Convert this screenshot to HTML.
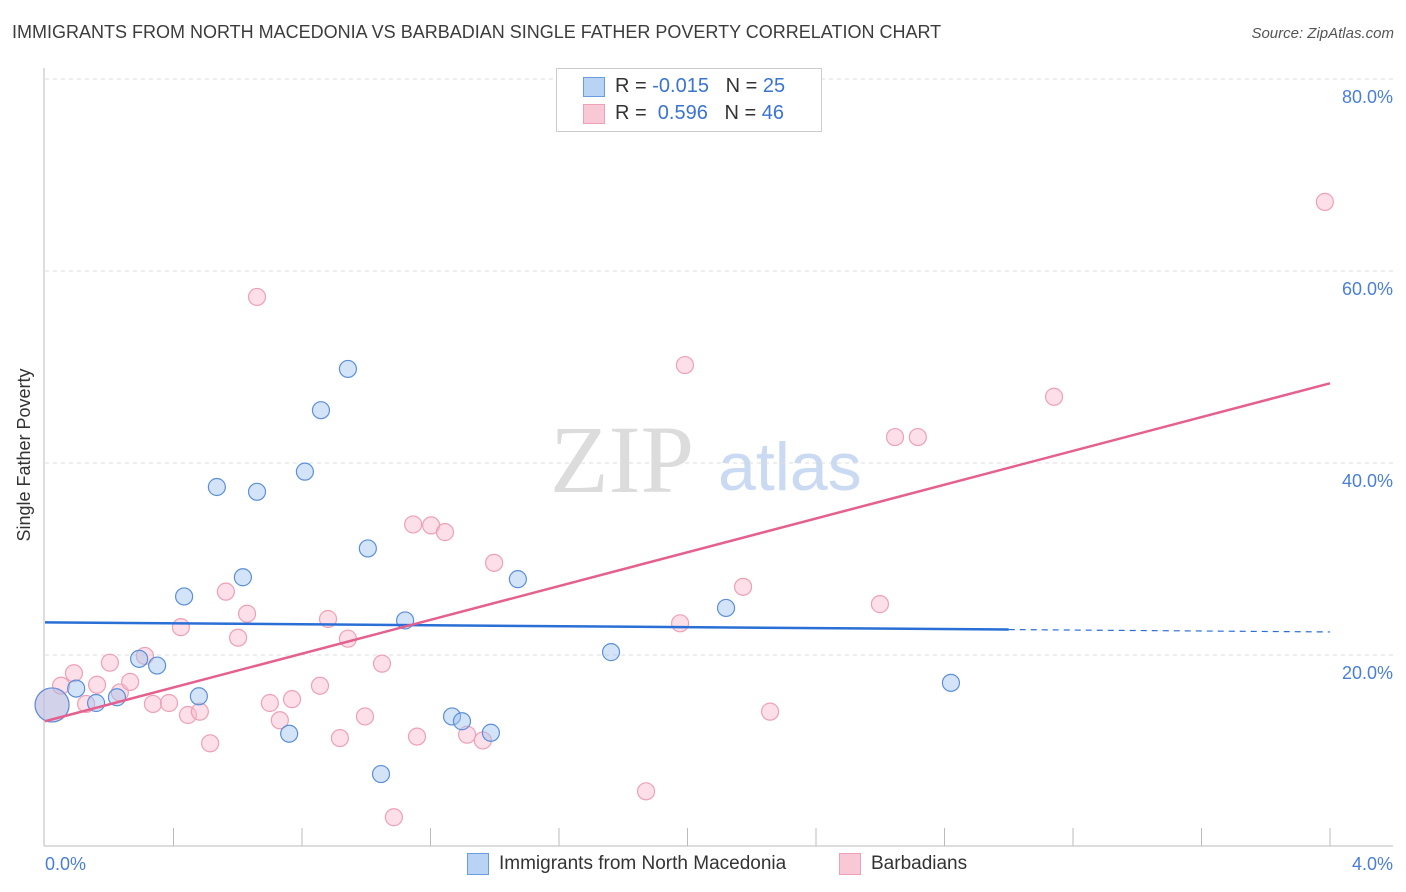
<!DOCTYPE html>
<html><head><meta charset="utf-8"><style>
body{margin:0;background:#fff;font-family:"Liberation Sans",sans-serif;}
#w{position:relative;width:1406px;height:892px;overflow:hidden}
</style></head><body><div id="w">
<div style="position:absolute;left:12px;top:22px;font-size:18px;color:#3c3c3c">IMMIGRANTS FROM NORTH MACEDONIA VS BARBADIAN SINGLE FATHER POVERTY CORRELATION CHART</div>
<div style="position:absolute;right:12px;top:25px;font-size:15px;color:#555;font-style:italic">Source: ZipAtlas.com</div>
<svg id="s" width="1406" height="892" style="position:absolute;left:0;top:0">
<text x="550" y="492" font-family="Liberation Serif" font-size="96" fill="#dcdcdc">ZIP</text>
<text x="718" y="490" font-family="Liberation Sans" font-size="68" fill="#c9daf2">atlas</text>
<text x="30" y="455" transform="rotate(-90 30 455)" text-anchor="middle" font-size="18" fill="#333">Single Father Poverty</text>
</svg>
<div style="position:absolute;left:556px;top:68px;width:264px;height:62px;border:1px solid #ccc;background:#fff;font-size:20px;color:#333">
<div style="position:absolute;left:26px;top:8px;width:20px;height:18px;background:#b9d3f5;border:1px solid #6a9ce0"></div>
<div style="position:absolute;left:58px;top:6px">R = <span style="color:#3a74d0">-0.015</span>&nbsp;&nbsp;&nbsp;N = <span style="color:#3a74d0">25</span></div>
<div style="position:absolute;left:26px;top:35px;width:20px;height:18px;background:#f9c8d6;border:1px solid #eea0b6"></div>
<div style="position:absolute;left:58px;top:33px">R = &nbsp;<span style="color:#3a74d0">0.596</span>&nbsp;&nbsp;&nbsp;N = <span style="color:#3a74d0">46</span></div>
</div>
<div style="position:absolute;left:467px;top:853px;width:20px;height:20px;background:#b9d3f5;border:1px solid #6a9ce0"></div>
<div style="position:absolute;left:499px;top:853px;font-size:19px;color:#333">Immigrants from North Macedonia</div>
<div style="position:absolute;left:839px;top:853px;width:20px;height:20px;background:#f9c8d6;border:1px solid #eea0b6"></div>
<div style="position:absolute;left:871px;top:853px;font-size:19px;color:#333">Barbadians</div>
</div>
<script>
const yTicks=[20,40,60,80];
const yTickLabels=["20.0%","40.0%","60.0%","80.0%"];
const xTickLabels=["0.0%","4.0%"];
const blueX=[0.022,0.097,0.159,0.224,0.293,0.349,0.433,0.479,0.535,0.616,0.660,0.760,0.809,0.859,0.943,1.005,1.046,1.121,1.267,1.298,1.388,1.472,1.762,2.120,2.820];
const blueY=[14.8,16.5,15.0,15.6,19.6,18.9,26.1,15.7,37.5,28.1,37.0,11.8,39.1,45.5,49.8,31.1,7.6,23.6,13.6,13.1,11.9,27.9,20.3,24.9,17.1];
const pinkX=[0.022,0.050,0.090,0.128,0.162,0.202,0.233,0.265,0.311,0.336,0.386,0.423,0.445,0.482,0.514,0.563,0.601,0.629,0.660,0.700,0.731,0.769,0.856,0.881,0.918,0.943,0.996,1.049,1.086,1.146,1.158,1.202,1.245,1.314,1.363,1.398,1.871,1.977,1.992,2.173,2.257,2.599,2.646,2.717,3.141,3.984];
const pinkY=[14.8,16.8,18.1,14.9,16.9,19.2,16.1,17.2,19.9,14.9,15.0,22.9,13.75,14.1,10.8,26.6,21.8,24.3,57.3,15.0,13.2,15.4,16.8,23.75,11.35,21.7,13.6,19.1,3.1,33.6,11.5,33.5,32.8,11.7,11.1,29.6,5.8,23.3,50.2,27.1,14.1,25.3,42.7,42.7,46.9,67.2];
const blueTrend=[23.4,-0.25];
const pinkTrend=[13.1,8.8];
const X=v=>45+v*1285/4, Y=v=>847-v*9.6;
const s=document.getElementById('s'),NS='http://www.w3.org/2000/svg';
function mk(t,a){const e=document.createElementNS(NS,t);for(const k in a)e.setAttribute(k,a[k]);s.appendChild(e);return e;}
yTicks.forEach((t,i)=>{
 const g=mk('line',{x1:45,x2:1393,y1:Y(t),y2:Y(t),stroke:'#ddd','stroke-dasharray':'4,4'});
 
 
 const l=mk('text',{x:1393,y:Y(t)+24,'text-anchor':'end','font-size':18,fill:'#4a7fd4'});l.textContent=yTickLabels[i];
 
 
});
const ax=mk('line',{x1:44,x2:44,y1:68,y2:846,stroke:'#bbb'});


const bx=mk('line',{x1:44,x2:1393,y1:846,y2:846,stroke:'#bbb'});


for(let i=1;i<=10;i++){const t=mk('line',{x1:X(i*0.4),x2:X(i*0.4),y1:828,y2:846,stroke:'#bbb'});
 
 }
[[0,45,'start'],[1,1393,'end']].forEach(([i,x,a])=>{const t=mk('text',{x:x,y:870,'text-anchor':a,'font-size':18,fill:'#4a7fd4'});t.textContent=xTickLabels[i];
 
 });
function dots(xs,ys,fill,stroke,name){xs.forEach((x,i)=>{const c=mk('circle',{cx:X(x),cy:Y(ys[i]),r:i===0?17:8.5,fill:fill,stroke:stroke,'stroke-width':1.2});
 
 });}
dots(pinkX,pinkY,'rgba(248,185,203,0.45)','#eea0b6','barbadians-point');
dots(blueX,blueY,'rgba(160,196,240,0.45)','#5b8fd9','macedonia-point');
const bl=mk('line',{x1:X(0),y1:Y(blueTrend[0]),x2:X(3),y2:Y(blueTrend[0]+blueTrend[1]*3),stroke:'#2a6fd6','stroke-width':2.5});


const bd=mk('line',{x1:X(3),y1:Y(blueTrend[0]+blueTrend[1]*3),x2:X(4),y2:Y(blueTrend[0]+blueTrend[1]*4),stroke:'#2a6fd6','stroke-width':1.2,'stroke-dasharray':'6,5'});


const pl=mk('line',{x1:X(0),y1:Y(pinkTrend[0]),x2:X(4),y2:Y(pinkTrend[0]+pinkTrend[1]*4),stroke:'#e5608e','stroke-width':2.5});


</script>
</body></html>
